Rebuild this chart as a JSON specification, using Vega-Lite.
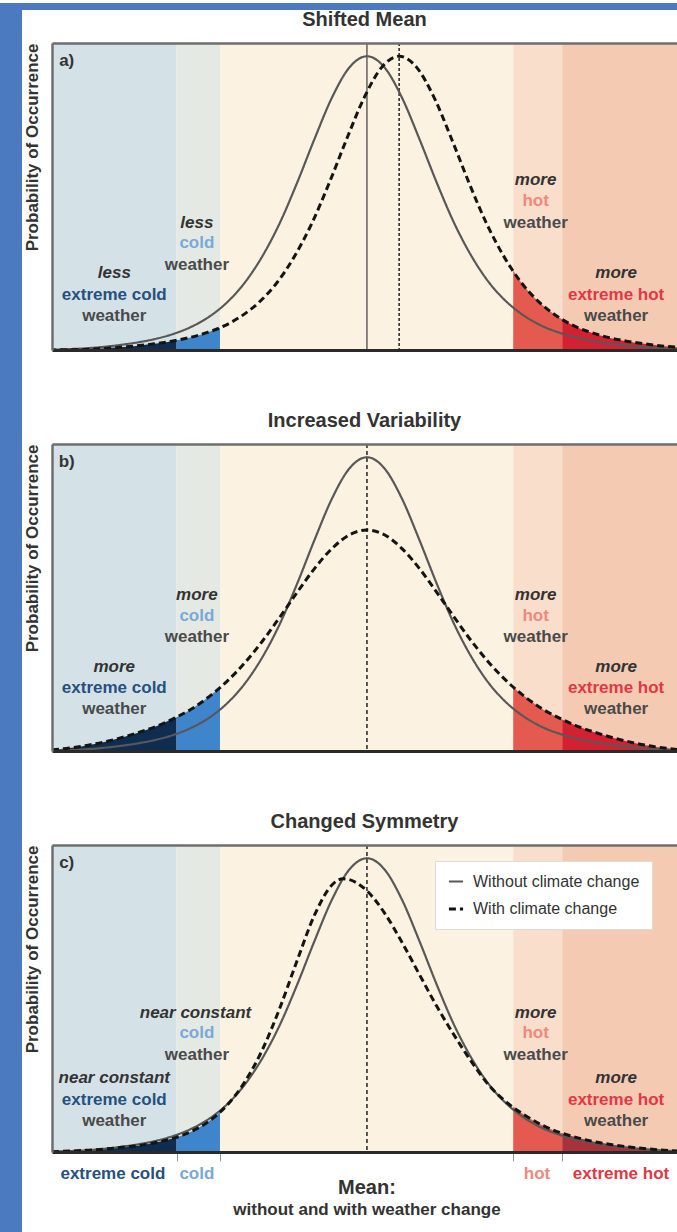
{
"$schema": "https://vega.github.io/schema/vega-lite/v6.json",
"background": "#ffffff",
"padding": 0,
"spacing": 0,
"bounds": "flush",
"config": {"font": "Liberation Sans", "axis": {"grid": false, "minExtent": 0}, "view": {"stroke": null}},
"datasets": {
"zones": [
{"kind":"extreme cold zone","x0":-4.5,"x1":-2.72},
{"kind":"cold zone","x0":-2.72,"x1":-2.1},
{"kind":"normal zone","x0":-2.1,"x1":2.09},
{"kind":"hot zone","x0":2.09,"x1":2.79},
{"kind":"extreme hot zone","x0":2.79,"x1":4.5}
],
"vlines": [
{"panel":"a","series":"Without climate change","x":0},
{"panel":"a","series":"With climate change","x":0.46},
{"panel":"b","series":"Both","x":0},
{"panel":"c","series":"Both","x":0}
],
"curves": [
{"panel":"all","series":"Without climate change","x":-4.5,"y":0.001},
{"panel":"all","series":"Without climate change","x":-4.25,"y":0.003},
{"panel":"all","series":"Without climate change","x":-4,"y":0.006},
{"panel":"all","series":"Without climate change","x":-3.75,"y":0.011},
{"panel":"all","series":"Without climate change","x":-3.5,"y":0.018},
{"panel":"all","series":"Without climate change","x":-3.25,"y":0.027},
{"panel":"all","series":"Without climate change","x":-3,"y":0.039},
{"panel":"all","series":"Without climate change","x":-2.75,"y":0.056},
{"panel":"all","series":"Without climate change","x":-2.5,"y":0.08},
{"panel":"all","series":"Without climate change","x":-2.25,"y":0.114},
{"panel":"all","series":"Without climate change","x":-2,"y":0.162},
{"panel":"all","series":"Without climate change","x":-1.75,"y":0.228},
{"panel":"all","series":"Without climate change","x":-1.5,"y":0.317},
{"panel":"all","series":"Without climate change","x":-1.25,"y":0.43},
{"panel":"all","series":"Without climate change","x":-1,"y":0.568},
{"panel":"all","series":"Without climate change","x":-0.75,"y":0.718},
{"panel":"all","series":"Without climate change","x":-0.5,"y":0.859},
{"panel":"all","series":"Without climate change","x":-0.25,"y":0.962},
{"panel":"all","series":"Without climate change","x":0,"y":1},
{"panel":"all","series":"Without climate change","x":0.25,"y":0.962},
{"panel":"all","series":"Without climate change","x":0.5,"y":0.859},
{"panel":"all","series":"Without climate change","x":0.75,"y":0.718},
{"panel":"all","series":"Without climate change","x":1,"y":0.568},
{"panel":"all","series":"Without climate change","x":1.25,"y":0.43},
{"panel":"all","series":"Without climate change","x":1.5,"y":0.317},
{"panel":"all","series":"Without climate change","x":1.75,"y":0.228},
{"panel":"all","series":"Without climate change","x":2,"y":0.163},
{"panel":"all","series":"Without climate change","x":2.25,"y":0.116},
{"panel":"all","series":"Without climate change","x":2.5,"y":0.082},
{"panel":"all","series":"Without climate change","x":2.75,"y":0.059},
{"panel":"all","series":"Without climate change","x":3,"y":0.042},
{"panel":"all","series":"Without climate change","x":3.25,"y":0.03},
{"panel":"all","series":"Without climate change","x":3.5,"y":0.021},
{"panel":"all","series":"Without climate change","x":3.75,"y":0.014},
{"panel":"all","series":"Without climate change","x":4,"y":0.009},
{"panel":"all","series":"Without climate change","x":4.25,"y":0.005},
{"panel":"all","series":"Without climate change","x":4.5,"y":0.002},
{"panel":"a","series":"With climate change","x":-4.54,"y":0},
{"panel":"a","series":"With climate change","x":-4.29,"y":0.001},
{"panel":"a","series":"With climate change","x":-4.04,"y":0.002},
{"panel":"a","series":"With climate change","x":-3.79,"y":0.005},
{"panel":"a","series":"With climate change","x":-3.54,"y":0.009},
{"panel":"a","series":"With climate change","x":-3.29,"y":0.014},
{"panel":"a","series":"With climate change","x":-3.04,"y":0.021},
{"panel":"a","series":"With climate change","x":-2.79,"y":0.03},
{"panel":"a","series":"With climate change","x":-2.54,"y":0.042},
{"panel":"a","series":"With climate change","x":-2.29,"y":0.059},
{"panel":"a","series":"With climate change","x":-2.04,"y":0.082},
{"panel":"a","series":"With climate change","x":-1.79,"y":0.116},
{"panel":"a","series":"With climate change","x":-1.54,"y":0.163},
{"panel":"a","series":"With climate change","x":-1.29,"y":0.228},
{"panel":"a","series":"With climate change","x":-1.04,"y":0.317},
{"panel":"a","series":"With climate change","x":-0.79,"y":0.43},
{"panel":"a","series":"With climate change","x":-0.54,"y":0.568},
{"panel":"a","series":"With climate change","x":-0.29,"y":0.718},
{"panel":"a","series":"With climate change","x":-0.04,"y":0.859},
{"panel":"a","series":"With climate change","x":0.21,"y":0.962},
{"panel":"a","series":"With climate change","x":0.46,"y":1},
{"panel":"a","series":"With climate change","x":0.71,"y":0.962},
{"panel":"a","series":"With climate change","x":0.96,"y":0.859},
{"panel":"a","series":"With climate change","x":1.21,"y":0.718},
{"panel":"a","series":"With climate change","x":1.46,"y":0.568},
{"panel":"a","series":"With climate change","x":1.71,"y":0.43},
{"panel":"a","series":"With climate change","x":1.96,"y":0.317},
{"panel":"a","series":"With climate change","x":2.21,"y":0.228},
{"panel":"a","series":"With climate change","x":2.46,"y":0.163},
{"panel":"a","series":"With climate change","x":2.71,"y":0.116},
{"panel":"a","series":"With climate change","x":2.96,"y":0.082},
{"panel":"a","series":"With climate change","x":3.21,"y":0.059},
{"panel":"a","series":"With climate change","x":3.46,"y":0.042},
{"panel":"a","series":"With climate change","x":3.71,"y":0.03},
{"panel":"a","series":"With climate change","x":3.96,"y":0.021},
{"panel":"a","series":"With climate change","x":4.21,"y":0.014},
{"panel":"a","series":"With climate change","x":4.46,"y":0.009},
{"panel":"a","series":"With climate change","x":4.71,"y":0.005},
{"panel":"b","series":"With climate change","x":-4.5,"y":0.004},
{"panel":"b","series":"With climate change","x":-4.25,"y":0.01},
{"panel":"b","series":"With climate change","x":-4,"y":0.019},
{"panel":"b","series":"With climate change","x":-3.75,"y":0.031},
{"panel":"b","series":"With climate change","x":-3.5,"y":0.046},
{"panel":"b","series":"With climate change","x":-3.25,"y":0.064},
{"panel":"b","series":"With climate change","x":-3,"y":0.085},
{"panel":"b","series":"With climate change","x":-2.75,"y":0.112},
{"panel":"b","series":"With climate change","x":-2.5,"y":0.144},
{"panel":"b","series":"With climate change","x":-2.25,"y":0.186},
{"panel":"b","series":"With climate change","x":-2,"y":0.237},
{"panel":"b","series":"With climate change","x":-1.75,"y":0.299},
{"panel":"b","series":"With climate change","x":-1.5,"y":0.372},
{"panel":"b","series":"With climate change","x":-1.25,"y":0.454},
{"panel":"b","series":"With climate change","x":-1,"y":0.539},
{"panel":"b","series":"With climate change","x":-0.75,"y":0.621},
{"panel":"b","series":"With climate change","x":-0.5,"y":0.689},
{"panel":"b","series":"With climate change","x":-0.25,"y":0.736},
{"panel":"b","series":"With climate change","x":0,"y":0.752},
{"panel":"b","series":"With climate change","x":0.25,"y":0.736},
{"panel":"b","series":"With climate change","x":0.5,"y":0.689},
{"panel":"b","series":"With climate change","x":0.75,"y":0.621},
{"panel":"b","series":"With climate change","x":1,"y":0.539},
{"panel":"b","series":"With climate change","x":1.25,"y":0.454},
{"panel":"b","series":"With climate change","x":1.5,"y":0.372},
{"panel":"b","series":"With climate change","x":1.75,"y":0.299},
{"panel":"b","series":"With climate change","x":2,"y":0.237},
{"panel":"b","series":"With climate change","x":2.25,"y":0.186},
{"panel":"b","series":"With climate change","x":2.5,"y":0.144},
{"panel":"b","series":"With climate change","x":2.75,"y":0.112},
{"panel":"b","series":"With climate change","x":3,"y":0.085},
{"panel":"b","series":"With climate change","x":3.25,"y":0.064},
{"panel":"b","series":"With climate change","x":3.5,"y":0.046},
{"panel":"b","series":"With climate change","x":3.75,"y":0.031},
{"panel":"b","series":"With climate change","x":4,"y":0.019},
{"panel":"b","series":"With climate change","x":4.25,"y":0.01},
{"panel":"b","series":"With climate change","x":4.5,"y":0.004},
{"panel":"c","series":"With climate change","x":-4.5,"y":0.001},
{"panel":"c","series":"With climate change","x":-4.25,"y":0.003},
{"panel":"c","series":"With climate change","x":-4,"y":0.006},
{"panel":"c","series":"With climate change","x":-3.75,"y":0.01},
{"panel":"c","series":"With climate change","x":-3.5,"y":0.016},
{"panel":"c","series":"With climate change","x":-3.25,"y":0.022},
{"panel":"c","series":"With climate change","x":-3,"y":0.033},
{"panel":"c","series":"With climate change","x":-2.75,"y":0.048},
{"panel":"c","series":"With climate change","x":-2.5,"y":0.071},
{"panel":"c","series":"With climate change","x":-2.25,"y":0.106},
{"panel":"c","series":"With climate change","x":-2,"y":0.159},
{"panel":"c","series":"With climate change","x":-1.75,"y":0.237},
{"panel":"c","series":"With climate change","x":-1.5,"y":0.345},
{"panel":"c","series":"With climate change","x":-1.25,"y":0.487},
{"panel":"c","series":"With climate change","x":-1,"y":0.65},
{"panel":"c","series":"With climate change","x":-0.75,"y":0.806},
{"panel":"c","series":"With climate change","x":-0.5,"y":0.909},
{"panel":"c","series":"With climate change","x":-0.34,"y":0.93},
{"panel":"c","series":"With climate change","x":-0.25,"y":0.927},
{"panel":"c","series":"With climate change","x":0,"y":0.889},
{"panel":"c","series":"With climate change","x":0.25,"y":0.814},
{"panel":"c","series":"With climate change","x":0.5,"y":0.714},
{"panel":"c","series":"With climate change","x":0.75,"y":0.604},
{"panel":"c","series":"With climate change","x":1,"y":0.495},
{"panel":"c","series":"With climate change","x":1.25,"y":0.396},
{"panel":"c","series":"With climate change","x":1.5,"y":0.305},
{"panel":"c","series":"With climate change","x":1.75,"y":0.225},
{"panel":"c","series":"With climate change","x":2,"y":0.168},
{"panel":"c","series":"With climate change","x":2.25,"y":0.126},
{"panel":"c","series":"With climate change","x":2.5,"y":0.092},
{"panel":"c","series":"With climate change","x":2.75,"y":0.067},
{"panel":"c","series":"With climate change","x":3,"y":0.049},
{"panel":"c","series":"With climate change","x":3.25,"y":0.035},
{"panel":"c","series":"With climate change","x":3.5,"y":0.025},
{"panel":"c","series":"With climate change","x":3.75,"y":0.017},
{"panel":"c","series":"With climate change","x":4,"y":0.011},
{"panel":"c","series":"With climate change","x":4.25,"y":0.006},
{"panel":"c","series":"With climate change","x":4.5,"y":0.003}
],
"tails": [
{"panel":"a","kind":"extreme cold tail","x":-4.5,"y":0},
{"panel":"a","kind":"extreme cold tail","x":-4.29,"y":0.001},
{"panel":"a","kind":"extreme cold tail","x":-4.04,"y":0.002},
{"panel":"a","kind":"extreme cold tail","x":-3.79,"y":0.005},
{"panel":"a","kind":"extreme cold tail","x":-3.54,"y":0.009},
{"panel":"a","kind":"extreme cold tail","x":-3.29,"y":0.014},
{"panel":"a","kind":"extreme cold tail","x":-3.04,"y":0.021},
{"panel":"a","kind":"extreme cold tail","x":-2.79,"y":0.03},
{"panel":"a","kind":"extreme cold tail","x":-2.72,"y":0.033},
{"panel":"a","kind":"cold tail","x":-2.72,"y":0.033},
{"panel":"a","kind":"cold tail","x":-2.54,"y":0.042},
{"panel":"a","kind":"cold tail","x":-2.29,"y":0.059},
{"panel":"a","kind":"cold tail","x":-2.1,"y":0.076},
{"panel":"a","kind":"hot tail","x":2.09,"y":0.271},
{"panel":"a","kind":"hot tail","x":2.21,"y":0.228},
{"panel":"a","kind":"hot tail","x":2.46,"y":0.163},
{"panel":"a","kind":"hot tail","x":2.71,"y":0.116},
{"panel":"a","kind":"hot tail","x":2.79,"y":0.105},
{"panel":"a","kind":"extreme hot tail","x":2.79,"y":0.105},
{"panel":"a","kind":"extreme hot tail","x":2.96,"y":0.082},
{"panel":"a","kind":"extreme hot tail","x":3.21,"y":0.059},
{"panel":"a","kind":"extreme hot tail","x":3.46,"y":0.042},
{"panel":"a","kind":"extreme hot tail","x":3.71,"y":0.03},
{"panel":"a","kind":"extreme hot tail","x":3.96,"y":0.021},
{"panel":"a","kind":"extreme hot tail","x":4.21,"y":0.014},
{"panel":"a","kind":"extreme hot tail","x":4.46,"y":0.009},
{"panel":"a","kind":"extreme hot tail","x":4.5,"y":0.008},
{"panel":"b","kind":"extreme cold tail","x":-4.5,"y":0.004},
{"panel":"b","kind":"extreme cold tail","x":-4.25,"y":0.01},
{"panel":"b","kind":"extreme cold tail","x":-4,"y":0.019},
{"panel":"b","kind":"extreme cold tail","x":-3.75,"y":0.031},
{"panel":"b","kind":"extreme cold tail","x":-3.5,"y":0.046},
{"panel":"b","kind":"extreme cold tail","x":-3.25,"y":0.064},
{"panel":"b","kind":"extreme cold tail","x":-3,"y":0.085},
{"panel":"b","kind":"extreme cold tail","x":-2.75,"y":0.112},
{"panel":"b","kind":"extreme cold tail","x":-2.72,"y":0.115},
{"panel":"b","kind":"cold tail","x":-2.72,"y":0.115},
{"panel":"b","kind":"cold tail","x":-2.5,"y":0.144},
{"panel":"b","kind":"cold tail","x":-2.25,"y":0.186},
{"panel":"b","kind":"cold tail","x":-2.1,"y":0.215},
{"panel":"b","kind":"hot tail","x":2.09,"y":0.217},
{"panel":"b","kind":"hot tail","x":2.25,"y":0.186},
{"panel":"b","kind":"hot tail","x":2.5,"y":0.144},
{"panel":"b","kind":"hot tail","x":2.75,"y":0.112},
{"panel":"b","kind":"hot tail","x":2.79,"y":0.107},
{"panel":"b","kind":"extreme hot tail","x":2.79,"y":0.107},
{"panel":"b","kind":"extreme hot tail","x":3,"y":0.085},
{"panel":"b","kind":"extreme hot tail","x":3.25,"y":0.064},
{"panel":"b","kind":"extreme hot tail","x":3.5,"y":0.046},
{"panel":"b","kind":"extreme hot tail","x":3.75,"y":0.031},
{"panel":"b","kind":"extreme hot tail","x":4,"y":0.019},
{"panel":"b","kind":"extreme hot tail","x":4.25,"y":0.01},
{"panel":"b","kind":"extreme hot tail","x":4.5,"y":0.004},
{"panel":"c","kind":"extreme cold tail","x":-4.5,"y":0.001},
{"panel":"c","kind":"extreme cold tail","x":-4.25,"y":0.003},
{"panel":"c","kind":"extreme cold tail","x":-4,"y":0.006},
{"panel":"c","kind":"extreme cold tail","x":-3.75,"y":0.01},
{"panel":"c","kind":"extreme cold tail","x":-3.5,"y":0.016},
{"panel":"c","kind":"extreme cold tail","x":-3.25,"y":0.022},
{"panel":"c","kind":"extreme cold tail","x":-3,"y":0.033},
{"panel":"c","kind":"extreme cold tail","x":-2.75,"y":0.048},
{"panel":"c","kind":"extreme cold tail","x":-2.72,"y":0.05},
{"panel":"c","kind":"cold tail","x":-2.72,"y":0.05},
{"panel":"c","kind":"cold tail","x":-2.5,"y":0.071},
{"panel":"c","kind":"cold tail","x":-2.25,"y":0.106},
{"panel":"c","kind":"cold tail","x":-2.1,"y":0.135},
{"panel":"c","kind":"hot tail","x":2.09,"y":0.155},
{"panel":"c","kind":"hot tail","x":2.25,"y":0.126},
{"panel":"c","kind":"hot tail","x":2.5,"y":0.092},
{"panel":"c","kind":"hot tail","x":2.75,"y":0.067},
{"panel":"c","kind":"hot tail","x":2.79,"y":0.064},
{"panel":"c","kind":"extreme hot tail (c)","x":2.79,"y":0.064},
{"panel":"c","kind":"extreme hot tail (c)","x":3,"y":0.049},
{"panel":"c","kind":"extreme hot tail (c)","x":3.25,"y":0.035},
{"panel":"c","kind":"extreme hot tail (c)","x":3.5,"y":0.025},
{"panel":"c","kind":"extreme hot tail (c)","x":3.75,"y":0.017},
{"panel":"c","kind":"extreme hot tail (c)","x":4,"y":0.011},
{"panel":"c","kind":"extreme hot tail (c)","x":4.25,"y":0.006},
{"panel":"c","kind":"extreme hot tail (c)","x":4.5,"y":0.003}
],
"labels": [
{"panel":"a","kind":"tag","text":"a)","x":-4.29,"y":0.984},
{"panel":"a","kind":"qualifier","text":"less","x":-3.61,"y":0.262},
{"panel":"a","kind":"extreme cold","text":"extreme cold","x":-3.61,"y":0.187},
{"panel":"a","kind":"weather","text":"weather","x":-3.61,"y":0.116},
{"panel":"a","kind":"qualifier","text":"less","x":-2.43,"y":0.432},
{"panel":"a","kind":"cold","text":"cold","x":-2.43,"y":0.364},
{"panel":"a","kind":"weather","text":"weather","x":-2.43,"y":0.289},
{"panel":"a","kind":"qualifier","text":"more","x":2.41,"y":0.579},
{"panel":"a","kind":"hot","text":"hot","x":2.41,"y":0.507},
{"panel":"a","kind":"weather","text":"weather","x":2.41,"y":0.432},
{"panel":"a","kind":"qualifier","text":"more","x":3.56,"y":0.262},
{"panel":"a","kind":"extreme hot","text":"extreme hot","x":3.56,"y":0.187},
{"panel":"a","kind":"weather","text":"weather","x":3.56,"y":0.116},
{"panel":"b","kind":"tag","text":"b)","x":-4.29,"y":0.984},
{"panel":"b","kind":"qualifier","text":"more","x":-2.43,"y":0.531},
{"panel":"b","kind":"cold","text":"cold","x":-2.43,"y":0.459},
{"panel":"b","kind":"weather","text":"weather","x":-2.43,"y":0.388},
{"panel":"b","kind":"qualifier","text":"more","x":-3.61,"y":0.286},
{"panel":"b","kind":"extreme cold","text":"extreme cold","x":-3.61,"y":0.214},
{"panel":"b","kind":"weather","text":"weather","x":-3.61,"y":0.143},
{"panel":"b","kind":"qualifier","text":"more","x":2.41,"y":0.531},
{"panel":"b","kind":"hot","text":"hot","x":2.41,"y":0.459},
{"panel":"b","kind":"weather","text":"weather","x":2.41,"y":0.388},
{"panel":"b","kind":"qualifier","text":"more","x":3.56,"y":0.286},
{"panel":"b","kind":"extreme hot","text":"extreme hot","x":3.56,"y":0.214},
{"panel":"b","kind":"weather","text":"weather","x":3.56,"y":0.143},
{"panel":"c","kind":"tag","text":"c)","x":-4.29,"y":0.984},
{"panel":"c","kind":"qualifier","text":"near constant","x":-2.45,"y":0.473},
{"panel":"c","kind":"cold","text":"cold","x":-2.43,"y":0.405},
{"panel":"c","kind":"weather","text":"weather","x":-2.43,"y":0.33},
{"panel":"c","kind":"qualifier","text":"near constant","x":-3.61,"y":0.252},
{"panel":"c","kind":"extreme cold","text":"extreme cold","x":-3.61,"y":0.177},
{"panel":"c","kind":"weather","text":"weather","x":-3.61,"y":0.106},
{"panel":"c","kind":"qualifier","text":"more","x":2.41,"y":0.473},
{"panel":"c","kind":"hot","text":"hot","x":2.41,"y":0.405},
{"panel":"c","kind":"weather","text":"weather","x":2.41,"y":0.33},
{"panel":"c","kind":"qualifier","text":"more","x":3.56,"y":0.252},
{"panel":"c","kind":"extreme hot","text":"extreme hot","x":3.56,"y":0.177},
{"panel":"c","kind":"weather","text":"weather","x":3.56,"y":0.106},
{"panel":"c","kind":"extreme cold","text":"extreme cold","x":-3.63,"y":-0.075},
{"panel":"c","kind":"cold","text":"cold","x":-2.43,"y":-0.075},
{"panel":"c","kind":"hot","text":"hot","x":2.43,"y":-0.075},
{"panel":"c","kind":"extreme hot","text":"extreme hot","x":3.63,"y":-0.075},
{"panel":"c","kind":"mean title","text":"Mean:","x":0,"y":-0.1225},
{"panel":"c","kind":"mean subtitle","text":"without and with weather change","x":0,"y":-0.197}
]
},
"vconcat": [
{"width": 677, "height": 7, "view": {"fill": "#4b7ac1", "stroke": null}, "data": {"values": [{}]}, "mark": {"type": "text", "text": ""}, "encoding": {}},
{"hconcat": [
 {"width": 22, "height": 1225, "view": {"fill": "#4b7ac1", "stroke": null}, "data": {"values": [{}]}, "mark": {"type": "text", "text": ""}, "encoding": {}},
 {"vconcat": [
  {"width": 625, "height": 1, "view": {"stroke": null}, "data": {"values": [{}]}, "mark": {"type": "text", "text": ""}, "encoding": {}},
  {"vconcat": [
   {"width": 625, "height": 307,
    "title": {"text": "Shifted Mean", "fontSize": 20, "fontWeight": "bold", "color": "#333333", "offset": 12},
    "resolve": {"axis": {"x": "independent"}},
    "layer": [
     {"data": {"name": "zones"}, "mark": {"type": "rect", "clip": true}, "encoding": {
       "x": {"field": "x0", "type": "quantitative", "scale": {"domain": [-4.5, 4.43], "nice": false, "zero": false}, "axis": {"title": null, "labels": false, "ticks": false, "domainColor": "#2a2a2a", "domainWidth": 3, "zindex": 1}},
       "x2": {"field": "x1"},
       "fill": {"field": "kind", "type": "nominal", "legend": null, "scale": {"domain": ["extreme cold zone","cold zone","normal zone","hot zone","extreme hot zone","extreme cold tail","cold tail","hot tail","extreme hot tail","extreme hot tail (c)","qualifier","weather","extreme cold","cold","hot","extreme hot","tag"], "range": ["#d4e2e8","#e5e9e3","#fcf2e1","#f8decb","#f5cab3","#0e2d50","#3f85cc","#e45a4e","#d52032","#a8323c","#333333","#4a4a4a","#26507e","#78a9da","#f08880","#e33645","#333333"]}}}},
     {"data": {"name": "tails"}, "transform": [{"filter": "datum.panel === 'a'"}], "mark": {"type": "area", "interpolate": "monotone", "clip": true}, "encoding": {
       "x": {"field": "x", "type": "quantitative", "axis": {"orient": "top", "title": null, "labels": false, "ticks": false, "domainColor": "#6e6e6e", "domainWidth": 2.5, "zindex": 1}},
       "y": {"field": "y", "type": "quantitative", "stack": null, "scale": {"domain": [0, 1.045], "nice": false, "zero": false}, "axis": {"title": "Probability of Occurrence", "titleAnchor": "end", "titleFontSize": 17, "titleFontWeight": "bold", "titleColor": "#333333", "titlePadding": 11, "labels": false, "ticks": false, "domainColor": "#6e6e6e", "domainWidth": 2.5, "zindex": 1}},
       "fill": {"field": "kind", "type": "nominal", "legend": null, "scale": {"domain": ["extreme cold zone","cold zone","normal zone","hot zone","extreme hot zone","extreme cold tail","cold tail","hot tail","extreme hot tail","extreme hot tail (c)","qualifier","weather","extreme cold","cold","hot","extreme hot","tag"], "range": ["#d4e2e8","#e5e9e3","#fcf2e1","#f8decb","#f5cab3","#0e2d50","#3f85cc","#e45a4e","#d52032","#a8323c","#333333","#4a4a4a","#26507e","#78a9da","#f08880","#e33645","#333333"]}}}},
     {"data": {"name": "vlines"}, "transform": [{"filter": "datum.panel === 'a' && datum.series === 'Without climate change'"}], "mark": {"type": "rule", "color": "#4a4a4a", "strokeWidth": 1.3}, "encoding": {"x": {"field": "x", "type": "quantitative", "axis": null}}},
     {"data": {"name": "vlines"}, "transform": [{"filter": "datum.panel === 'a' && datum.series === 'With climate change'"}], "mark": {"type": "rule", "color": "#222222", "strokeWidth": 1.5, "strokeDash": [3, 2]}, "encoding": {"x": {"field": "x", "type": "quantitative", "axis": null}}},
     {"data": {"name": "curves"}, "transform": [{"filter": "datum.panel === 'a' || datum.panel === 'all'"}], "mark": {"type": "line", "interpolate": "monotone", "clip": true}, "encoding": {
       "x": {"field": "x", "type": "quantitative", "axis": null},
       "y": {"field": "y", "type": "quantitative"},
       "stroke": {"field": "series", "type": "nominal", "legend": null, "scale": {"domain": ["Without climate change", "With climate change"], "range": ["#585858", "#141414"]}},
       "strokeDash": {"field": "series", "type": "nominal", "legend": null, "scale": {"domain": ["Without climate change", "With climate change"], "range": [[1, 0], [7, 4]]}},
       "strokeWidth": {"field": "series", "type": "nominal", "legend": null, "scale": {"domain": ["Without climate change", "With climate change"], "range": [2.2, 3]}}}},
     {"data": {"name": "labels"}, "transform": [{"filter": "datum.panel === 'a' && datum.kind === 'qualifier'"}], "mark": {"type": "text", "fontStyle": "italic", "fontWeight": "bold", "fontSize": 17, "baseline": "middle"}, "encoding": {
       "x": {"field": "x", "type": "quantitative", "axis": null}, "y": {"field": "y", "type": "quantitative"}, "text": {"field": "text"},
       "fill": {"field": "kind", "type": "nominal", "legend": null, "scale": {"domain": ["extreme cold zone","cold zone","normal zone","hot zone","extreme hot zone","extreme cold tail","cold tail","hot tail","extreme hot tail","extreme hot tail (c)","qualifier","weather","extreme cold","cold","hot","extreme hot","tag"], "range": ["#d4e2e8","#e5e9e3","#fcf2e1","#f8decb","#f5cab3","#0e2d50","#3f85cc","#e45a4e","#d52032","#a8323c","#333333","#4a4a4a","#26507e","#78a9da","#f08880","#e33645","#333333"]}}}},
     {"data": {"name": "labels"}, "transform": [{"filter": "datum.panel === 'a' && datum.kind !== 'qualifier'"}], "mark": {"type": "text", "fontWeight": "bold", "fontSize": 17, "baseline": "middle"}, "encoding": {
       "x": {"field": "x", "type": "quantitative", "axis": null}, "y": {"field": "y", "type": "quantitative"}, "text": {"field": "text"},
       "fill": {"field": "kind", "type": "nominal", "legend": null, "scale": {"domain": ["extreme cold zone","cold zone","normal zone","hot zone","extreme hot zone","extreme cold tail","cold tail","hot tail","extreme hot tail","extreme hot tail (c)","qualifier","weather","extreme cold","cold","hot","extreme hot","tag"], "range": ["#d4e2e8","#e5e9e3","#fcf2e1","#f8decb","#f5cab3","#0e2d50","#3f85cc","#e45a4e","#d52032","#a8323c","#333333","#4a4a4a","#26507e","#78a9da","#f08880","#e33645","#333333"]}}}}
    ]},
   {"width": 625, "height": 307,
    "title": {"text": "Increased Variability", "fontSize": 20, "fontWeight": "bold", "color": "#333333", "offset": 12},
    "resolve": {"axis": {"x": "independent"}},
    "layer": [
     {"data": {"name": "zones"}, "mark": {"type": "rect", "clip": true}, "encoding": {
       "x": {"field": "x0", "type": "quantitative", "scale": {"domain": [-4.5, 4.43], "nice": false, "zero": false}, "axis": {"title": null, "labels": false, "ticks": false, "domainColor": "#2a2a2a", "domainWidth": 3, "zindex": 1}},
       "x2": {"field": "x1"},
       "fill": {"field": "kind", "type": "nominal", "legend": null, "scale": {"domain": ["extreme cold zone","cold zone","normal zone","hot zone","extreme hot zone","extreme cold tail","cold tail","hot tail","extreme hot tail","extreme hot tail (c)","qualifier","weather","extreme cold","cold","hot","extreme hot","tag"], "range": ["#d4e2e8","#e5e9e3","#fcf2e1","#f8decb","#f5cab3","#0e2d50","#3f85cc","#e45a4e","#d52032","#a8323c","#333333","#4a4a4a","#26507e","#78a9da","#f08880","#e33645","#333333"]}}}},
     {"data": {"name": "tails"}, "transform": [{"filter": "datum.panel === 'b'"}], "mark": {"type": "area", "interpolate": "monotone", "clip": true}, "encoding": {
       "x": {"field": "x", "type": "quantitative", "axis": {"orient": "top", "title": null, "labels": false, "ticks": false, "domainColor": "#6e6e6e", "domainWidth": 2.5, "zindex": 1}},
       "y": {"field": "y", "type": "quantitative", "stack": null, "scale": {"domain": [0, 1.045], "nice": false, "zero": false}, "axis": {"title": "Probability of Occurrence", "titleAnchor": "end", "titleFontSize": 17, "titleFontWeight": "bold", "titleColor": "#333333", "titlePadding": 11, "labels": false, "ticks": false, "domainColor": "#6e6e6e", "domainWidth": 2.5, "zindex": 1}},
       "fill": {"field": "kind", "type": "nominal", "legend": null, "scale": {"domain": ["extreme cold zone","cold zone","normal zone","hot zone","extreme hot zone","extreme cold tail","cold tail","hot tail","extreme hot tail","extreme hot tail (c)","qualifier","weather","extreme cold","cold","hot","extreme hot","tag"], "range": ["#d4e2e8","#e5e9e3","#fcf2e1","#f8decb","#f5cab3","#0e2d50","#3f85cc","#e45a4e","#d52032","#a8323c","#333333","#4a4a4a","#26507e","#78a9da","#f08880","#e33645","#333333"]}}}},
     {"data": {"name": "vlines"}, "transform": [{"filter": "datum.panel === 'b'"}], "mark": {"type": "rule", "color": "#222222", "strokeWidth": 1.5, "strokeDash": [4, 3]}, "encoding": {"x": {"field": "x", "type": "quantitative", "axis": null}}},
     {"data": {"name": "curves"}, "transform": [{"filter": "datum.panel === 'b' || datum.panel === 'all'"}], "mark": {"type": "line", "interpolate": "monotone", "clip": true}, "encoding": {
       "x": {"field": "x", "type": "quantitative", "axis": null},
       "y": {"field": "y", "type": "quantitative"},
       "stroke": {"field": "series", "type": "nominal", "legend": null, "scale": {"domain": ["Without climate change", "With climate change"], "range": ["#585858", "#141414"]}},
       "strokeDash": {"field": "series", "type": "nominal", "legend": null, "scale": {"domain": ["Without climate change", "With climate change"], "range": [[1, 0], [7, 4]]}},
       "strokeWidth": {"field": "series", "type": "nominal", "legend": null, "scale": {"domain": ["Without climate change", "With climate change"], "range": [2.2, 3]}}}},
     {"data": {"name": "labels"}, "transform": [{"filter": "datum.panel === 'b' && datum.kind === 'qualifier'"}], "mark": {"type": "text", "fontStyle": "italic", "fontWeight": "bold", "fontSize": 17, "baseline": "middle"}, "encoding": {
       "x": {"field": "x", "type": "quantitative", "axis": null}, "y": {"field": "y", "type": "quantitative"}, "text": {"field": "text"},
       "fill": {"field": "kind", "type": "nominal", "legend": null, "scale": {"domain": ["extreme cold zone","cold zone","normal zone","hot zone","extreme hot zone","extreme cold tail","cold tail","hot tail","extreme hot tail","extreme hot tail (c)","qualifier","weather","extreme cold","cold","hot","extreme hot","tag"], "range": ["#d4e2e8","#e5e9e3","#fcf2e1","#f8decb","#f5cab3","#0e2d50","#3f85cc","#e45a4e","#d52032","#a8323c","#333333","#4a4a4a","#26507e","#78a9da","#f08880","#e33645","#333333"]}}}},
     {"data": {"name": "labels"}, "transform": [{"filter": "datum.panel === 'b' && datum.kind !== 'qualifier'"}], "mark": {"type": "text", "fontWeight": "bold", "fontSize": 17, "baseline": "middle"}, "encoding": {
       "x": {"field": "x", "type": "quantitative", "axis": null}, "y": {"field": "y", "type": "quantitative"}, "text": {"field": "text"},
       "fill": {"field": "kind", "type": "nominal", "legend": null, "scale": {"domain": ["extreme cold zone","cold zone","normal zone","hot zone","extreme hot zone","extreme cold tail","cold tail","hot tail","extreme hot tail","extreme hot tail (c)","qualifier","weather","extreme cold","cold","hot","extreme hot","tag"], "range": ["#d4e2e8","#e5e9e3","#fcf2e1","#f8decb","#f5cab3","#0e2d50","#3f85cc","#e45a4e","#d52032","#a8323c","#333333","#4a4a4a","#26507e","#78a9da","#f08880","#e33645","#333333"]}}}}
    ]},
   {"width": 625, "height": 307,
    "title": {"text": "Changed Symmetry", "fontSize": 20, "fontWeight": "bold", "color": "#333333", "offset": 12},
    "resolve": {"axis": {"x": "independent"}},
    "layer": [
     {"data": {"name": "zones"}, "mark": {"type": "rect", "clip": true}, "encoding": {
       "x": {"field": "x0", "type": "quantitative", "scale": {"domain": [-4.5, 4.43], "nice": false, "zero": false}, "axis": {"title": null, "labels": false, "ticks": true, "values": [-2.72, -2.1, 2.09, 2.79], "tickSize": 9, "tickColor": "#999999", "tickWidth": 1, "domainColor": "#2a2a2a", "domainWidth": 3, "zindex": 1}},
       "x2": {"field": "x1"},
       "fill": {"field": "kind", "type": "nominal", "legend": null, "scale": {"domain": ["extreme cold zone","cold zone","normal zone","hot zone","extreme hot zone","extreme cold tail","cold tail","hot tail","extreme hot tail","extreme hot tail (c)","qualifier","weather","extreme cold","cold","hot","extreme hot","tag"], "range": ["#d4e2e8","#e5e9e3","#fcf2e1","#f8decb","#f5cab3","#0e2d50","#3f85cc","#e45a4e","#d52032","#a8323c","#333333","#4a4a4a","#26507e","#78a9da","#f08880","#e33645","#333333"]}}}},
     {"data": {"name": "tails"}, "transform": [{"filter": "datum.panel === 'c'"}], "mark": {"type": "area", "interpolate": "monotone", "clip": true}, "encoding": {
       "x": {"field": "x", "type": "quantitative", "axis": {"orient": "top", "title": null, "labels": false, "ticks": false, "domainColor": "#6e6e6e", "domainWidth": 2.5, "zindex": 1}},
       "y": {"field": "y", "type": "quantitative", "stack": null, "scale": {"domain": [0, 1.045], "nice": false, "zero": false}, "axis": {"title": "Probability of Occurrence", "titleAnchor": "end", "titleFontSize": 17, "titleFontWeight": "bold", "titleColor": "#333333", "titlePadding": 11, "labels": false, "ticks": false, "domainColor": "#6e6e6e", "domainWidth": 2.5, "zindex": 1}},
       "fill": {"field": "kind", "type": "nominal", "legend": null, "scale": {"domain": ["extreme cold zone","cold zone","normal zone","hot zone","extreme hot zone","extreme cold tail","cold tail","hot tail","extreme hot tail","extreme hot tail (c)","qualifier","weather","extreme cold","cold","hot","extreme hot","tag"], "range": ["#d4e2e8","#e5e9e3","#fcf2e1","#f8decb","#f5cab3","#0e2d50","#3f85cc","#e45a4e","#d52032","#a8323c","#333333","#4a4a4a","#26507e","#78a9da","#f08880","#e33645","#333333"]}}}},
     {"data": {"name": "vlines"}, "transform": [{"filter": "datum.panel === 'c'"}], "mark": {"type": "rule", "color": "#222222", "strokeWidth": 1.5, "strokeDash": [4, 3]}, "encoding": {"x": {"field": "x", "type": "quantitative", "axis": null}}},
     {"data": {"name": "curves"}, "transform": [{"filter": "datum.panel === 'c' || datum.panel === 'all'"}], "mark": {"type": "line", "interpolate": "monotone", "clip": true}, "encoding": {
       "x": {"field": "x", "type": "quantitative", "axis": null},
       "y": {"field": "y", "type": "quantitative"},
       "stroke": {"field": "series", "type": "nominal", "scale": {"domain": ["Without climate change", "With climate change"], "range": ["#585858", "#141414"]},
         "legend": {"title": null, "orient": "none", "legendX": 383, "legendY": 16, "fillColor": "#ffffff", "strokeColor": "#dcdcdc", "padding": 12, "labelFontSize": 16, "labelLimit": 400, "labelColor": "#333333", "symbolType": "stroke", "symbolSize": 200, "symbolStrokeWidth": 2.5, "rowPadding": 10, "labelOffset": 8}},
       "strokeDash": {"field": "series", "type": "nominal", "scale": {"domain": ["Without climate change", "With climate change"], "range": [[1, 0], [7, 4]]},
         "legend": {"title": null, "orient": "none", "legendX": 383, "legendY": 16, "fillColor": "#ffffff", "strokeColor": "#dcdcdc", "padding": 12, "labelFontSize": 16, "labelLimit": 400, "labelColor": "#333333", "symbolType": "stroke", "symbolSize": 200, "symbolStrokeWidth": 2.5, "rowPadding": 10, "labelOffset": 8}},
       "strokeWidth": {"field": "series", "type": "nominal", "legend": null, "scale": {"domain": ["Without climate change", "With climate change"], "range": [2.2, 3]}}}},
     {"data": {"name": "labels"}, "transform": [{"filter": "datum.panel === 'c' && datum.kind === 'qualifier'"}], "mark": {"type": "text", "fontStyle": "italic", "fontWeight": "bold", "fontSize": 17, "baseline": "middle"}, "encoding": {
       "x": {"field": "x", "type": "quantitative", "axis": null}, "y": {"field": "y", "type": "quantitative"}, "text": {"field": "text"},
       "fill": {"field": "kind", "type": "nominal", "legend": null, "scale": {"domain": ["extreme cold zone","cold zone","normal zone","hot zone","extreme hot zone","extreme cold tail","cold tail","hot tail","extreme hot tail","extreme hot tail (c)","qualifier","weather","extreme cold","cold","hot","extreme hot","tag"], "range": ["#d4e2e8","#e5e9e3","#fcf2e1","#f8decb","#f5cab3","#0e2d50","#3f85cc","#e45a4e","#d52032","#a8323c","#333333","#4a4a4a","#26507e","#78a9da","#f08880","#e33645","#333333"]}}}},
     {"data": {"name": "labels"}, "transform": [{"filter": "datum.panel === 'c' && datum.kind !== 'qualifier' && datum.kind !== 'mean title' && datum.kind !== 'mean subtitle'"}], "mark": {"type": "text", "fontWeight": "bold", "fontSize": 17, "baseline": "middle"}, "encoding": {
       "x": {"field": "x", "type": "quantitative", "axis": null}, "y": {"field": "y", "type": "quantitative"}, "text": {"field": "text"},
       "fill": {"field": "kind", "type": "nominal", "legend": null, "scale": {"domain": ["extreme cold zone","cold zone","normal zone","hot zone","extreme hot zone","extreme cold tail","cold tail","hot tail","extreme hot tail","extreme hot tail (c)","qualifier","weather","extreme cold","cold","hot","extreme hot","tag"], "range": ["#d4e2e8","#e5e9e3","#fcf2e1","#f8decb","#f5cab3","#0e2d50","#3f85cc","#e45a4e","#d52032","#a8323c","#333333","#4a4a4a","#26507e","#78a9da","#f08880","#e33645","#333333"]}}}},
     {"data": {"name": "labels"}, "transform": [{"filter": "datum.kind === 'mean title'"}], "mark": {"type": "text", "fontWeight": "bold", "fontSize": 20, "baseline": "middle", "color": "#333333"}, "encoding": {
       "x": {"field": "x", "type": "quantitative", "axis": null}, "y": {"field": "y", "type": "quantitative"}, "text": {"field": "text"}}},
     {"data": {"name": "labels"}, "transform": [{"filter": "datum.kind === 'mean subtitle'"}], "mark": {"type": "text", "fontWeight": "bold", "fontSize": 17, "baseline": "middle", "color": "#333333"}, "encoding": {
       "x": {"field": "x", "type": "quantitative", "axis": null}, "y": {"field": "y", "type": "quantitative"}, "text": {"field": "text"}}}
    ]}
  ], "spacing": 94, "bounds": "flush",
  "resolve": {"scale": {"fill": "independent", "stroke": "independent", "strokeDash": "independent", "strokeWidth": "independent"}, "legend": {"stroke": "independent", "strokeDash": "independent"}}}
 ], "spacing": 32, "bounds": "flush"}
], "spacing": 30, "bounds": "flush"}
]
}
